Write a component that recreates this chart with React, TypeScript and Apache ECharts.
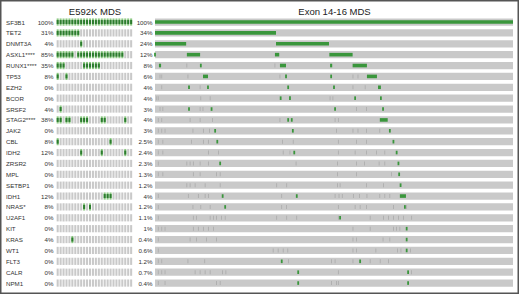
import React, { useEffect, useRef } from "react";
import * as echarts from "echarts";

const genes = ["SF3B1", "TET2", "DNMT3A", "ASXL1****", "RUNX1****", "TP53", "EZH2", "BCOR", "SRSF2", "STAG2****", "JAK2", "CBL", "IDH2", "ZRSR2", "MPL", "SETBP1", "IDH1", "NRAS*", "U2AF1", "KIT", "KRAS", "WT1", "FLT3", "CALR", "NPM1"];
const e592kPct = ["100%", "31%", "4%", "85%", "35%", "8%", "0%", "0%", "4%", "38%", "0%", "8%", "12%", "0%", "0%", "0%", "12%", "8%", "0%", "0%", "4%", "0%", "0%", "0%", "0%"];
const exonPct = ["100%", "34%", "24%", "12%", "8%", "6%", "4%", "4%", "3%", "4%", "3%", "2.5%", "2.4%", "2.3%", "1.3%", "1.2%", "4%", "1.2%", "1.1%", "1%", "0.4%", "0.6%", "1.2%", "0.7%", "0.4%"];

const e592kPatients = 26;
// mutated patient columns (0..25) per gene, E592K MDS cohort
const e592kMutated: number[][] = [
  [0, 1, 2, 3, 4, 5, 6, 7, 8, 9, 10, 11, 12, 13, 14, 15, 16, 17, 18, 19, 20, 21, 22, 23, 24, 25],
  [0, 1, 2, 3, 4, 5, 6, 7],
  [8],
  [0, 1, 2, 3, 4, 5, 7, 8, 9, 10, 11, 12, 13, 14, 15, 16, 17, 18, 19, 20, 21, 22],
  [0, 1, 2, 9, 10, 11, 12, 13, 14],
  [0, 3],
  [],
  [],
  [1],
  [0, 1, 3, 4, 8, 9, 10, 15, 16, 23],
  [],
  [0, 18],
  [8, 15, 23],
  [],
  [],
  [],
  [16, 17, 18],
  [9, 11],
  [],
  [],
  [5],
  [],
  [],
  [],
  [],
];

// Exon 14-16 MDS cohort: mutated stretches along the sample axis (0..100 %)
const exonMutated: [number, number][][] = [
  [[0, 100]],
  [[0, 33.8]],
  [[0, 8.7], [33.8, 48.6]],
  [[0, 0.5], [8.9, 12.6], [33.5, 34.7], [48.7, 55.2]],
  [[1.1, 1.7], [12.8, 13.3], [34.9, 36.6], [48.9, 49.5], [55.2, 59.2]],
  [[13.4, 14.8], [36.6, 36.6], [49.2, 49.2], [59.2, 62.0]],
  [[9.5, 9.5], [14.8, 14.8], [37.2, 37.2], [50.0, 50.0], [62.3, 63.1]],
  [[35.1, 35.1], [37.7, 37.7], [55.9, 55.9], [63.1, 63.1]],
  [[9.5, 9.5], [15.8, 15.8], [50.3, 50.3], [63.7, 63.7]],
  [[37.2, 37.2], [38.2, 38.2], [62.8, 65.0]],
  [[16.8, 16.8], [38.5, 38.5], [65.6, 65.6]],
  [[17.4, 17.4], [66.6, 66.6]],
  [[38.9, 38.9], [67.5, 67.5]],
  [[18.2, 18.2], [68.0, 68.0]],
  [[68.2, 68.2]],
  [[68.6, 68.6]],
  [[18.9, 18.9], [39.6, 39.6], [68.4, 70.1]],
  [[19.6, 19.6], [69.8, 69.8]],
  [[51.7, 51.7]],
  [[70.3, 70.3]],
  [[70.3, 70.3]],
  [[70.3, 70.3]],
  [[35.4, 35.4], [57.3, 57.3]],
  [[40.0, 40.0], [70.7, 70.7]],
  [[40.0, 40.0], [70.7, 70.7]],
];

// other (grey) marks in the Exon 14-16 cohort
const exonOther: number[][] = [
  [],
  [],
  [],
  [],
  [8.9, 33.5],
  [1.4, 1.9, 9.2, 34.9, 55.3, 56.7],
  [1.9, 12.6, 55.3, 58.7],
  [0.5, 0.9, 12.8, 15.4, 48.9, 49.7],
  [1.4, 2.2, 12.6, 13.4, 56.3, 59.1],
  [0.9, 1.9, 9.8, 12.6, 16.1, 34.9, 50.3, 51.2],
  [0.9, 1.9, 2.8, 10.6, 13.5, 15.2, 50.7, 55.3, 56.7, 59.1, 62.8],
  [0.9, 2.2, 10.2, 13.5, 14.9, 35.6, 38.6, 51.2, 56.3, 59.1],
  [0.9, 2.2, 14.9, 17.7, 35.8, 37.7, 51.2, 55.9, 59.1, 61.9, 64.2],
  [0.9, 8.9, 9.8, 10.7, 12.6, 14.9, 39.4, 51.0, 56.3, 58.5, 62.6, 64.2],
  [0.9, 2.2, 10.7, 12.6, 17.2, 18.2, 51.0, 56.3, 66.1],
  [8.9, 9.8, 11.2, 14.0, 18.2, 34.0, 36.8, 51.0, 51.7, 59.1, 63.8],
  [0.9, 9.3, 12.1, 14.0, 14.9, 35.4, 50.3, 51.4, 52.3, 55.4, 57.1, 59.2, 62.8, 64.2, 65.6],
  [0.9, 10.6, 12.8, 15.4, 35.4, 36.7, 51.2, 55.9, 57.3, 59.1, 66.6, 70.3],
  [0.9, 10.7, 11.6, 15.4, 16.3, 17.2, 18.6, 19.6, 34.0, 36.8, 39.6, 51.2, 60.1, 63.8, 65.2, 66.6, 68.0, 69.4, 71.7],
  [0.9, 1.9, 2.8, 10.7, 12.1, 13.5, 14.9, 16.3, 55.3, 60.1, 66.6, 67.5, 68.4],
  [0.9, 9.8, 11.6, 14.4, 17.2, 55.3, 56.3, 63.7, 65.6],
  [0.9, 33.0, 34.4, 35.8, 37.1, 55.3, 56.3, 61.7, 67.7, 68.7, 71.4],
  [0.9, 1.9, 9.2, 13.9, 37.3, 49.3, 50.3, 55.3, 60.1, 62.9, 65.2],
  [0.9, 1.9, 2.8, 11.2, 12.6, 14.0, 15.4, 18.9, 19.8, 51.2, 71.6],
  [0.9, 2.8, 17.2, 18.2, 49.3, 50.7, 51.2],
];

const FONT = "Liberation Sans, Arial, sans-serif";
const GREY = "#c9c9c9";
const GREEN = "#3a963c";
const TEXT = "#333333";

export default function App() {
  const ref = useRef<HTMLDivElement>(null);
  useEffect(() => {
    if (!ref.current) return;
    const chart = echarts.init(ref.current, undefined, { renderer: "svg" });

    const leftCells: number[][] = [];
    genes.forEach((_, r) => {
      for (let c = 0; c < e592kPatients; c++) {
        leftCells.push([c, r, e592kMutated[r].includes(c) ? 1 : 0]);
      }
    });
    const bgRows = genes.map((_, r) => [0, 100, r]);
    const greenSegs: number[][] = [];
    exonMutated.forEach((segs, r) => segs.forEach(([s, e]) => greenSegs.push([s, e, r])));
    const ticks: number[][] = [];
    exonOther.forEach((ps, r) => ps.forEach((p) => ticks.push([p, r])));

    const rowH = 7.2;

    const renderLeft = (params: any, api: any) => {
      const col = api.value(0);
      const row = api.value(1);
      const mut = api.value(2);
      const c = api.coord([col, row]);
      const size = api.size([1, 1]);
      const w = size[0] * 0.7;
      const x = c[0] + size[0] * 0.05;
      const y = c[1] - rowH / 2;
      if (!mut) {
        return { type: "rect", shape: { x, y, width: w, height: rowH }, style: { fill: GREY } };
      }
      return {
        type: "group",
        children: [
          { type: "rect", shape: { x, y, width: w, height: rowH }, style: { fill: "#8cc883" } },
          { type: "rect", shape: { x, y: c[1] - 2, width: w, height: 4 }, style: { fill: "#2c7c2e" } },
        ],
      };
    };
    const renderBg = (params: any, api: any) => {
      const a = api.coord([api.value(0), api.value(2)]);
      const b = api.coord([api.value(1), api.value(2)]);
      return { type: "rect", shape: { x: a[0], y: a[1] - rowH / 2, width: b[0] - a[0], height: rowH }, style: { fill: GREY } };
    };
    const renderGreen = (params: any, api: any) => {
      const a = api.coord([api.value(0), api.value(2)]);
      const b = api.coord([api.value(1), api.value(2)]);
      const w = Math.max(b[0] - a[0], 1.8);
      const x = b[0] - a[0] < 1.8 ? a[0] - 0.9 : a[0];
      return { type: "rect", shape: { x, y: a[1] - 1.8, width: w, height: 3.6 }, style: { fill: GREEN } };
    };
    const renderTick = (params: any, api: any) => {
      const a = api.coord([api.value(0), api.value(1)]);
      return { type: "rect", shape: { x: a[0] - 0.35, y: a[1] - 2, width: 0.7, height: 4 }, style: { fill: "#a6a6a6" } };
    };

    const catAxisBase = {
      type: "category" as const,
      data: genes,
      inverse: true,
      axisLine: { show: false },
      axisTick: { show: false },
      splitLine: { show: false },
    };

    chart.setOption({
      animation: false,
      backgroundColor: "#ffffff",
      grid: [
        { left: 56.5, width: 76.4, top: 16.6, height: 271.9 },
        { left: 155, width: 358, top: 16.6, height: 271.9 },
      ],
      xAxis: [
        { type: "value", gridIndex: 0, min: 0, max: e592kPatients, show: false },
        { type: "value", gridIndex: 1, min: 0, max: 100, show: false },
      ],
      yAxis: [
        {
          ...catAxisBase,
          gridIndex: 0,
          position: "left",
          axisLabel: { align: "left", margin: 50.5, fontSize: 6.2, color: TEXT, fontFamily: FONT, interval: 0 },
        },
        {
          ...catAxisBase,
          gridIndex: 0,
          position: "left",
          axisLabel: {
            align: "right",
            margin: 3,
            fontSize: 6.2,
            color: TEXT,
            fontFamily: FONT,
            interval: 0,
            formatter: (_v: string, i: number) => e592kPct[i],
          },
        },
        {
          ...catAxisBase,
          gridIndex: 1,
          position: "left",
          axisLabel: {
            align: "right",
            margin: 2.5,
            fontSize: 6.2,
            color: TEXT,
            fontFamily: FONT,
            interval: 0,
            formatter: (_v: string, i: number) => exonPct[i],
          },
        },
      ],
      series: [
        { type: "custom", xAxisIndex: 0, yAxisIndex: 0, renderItem: renderLeft, data: leftCells, encode: { x: 0, y: 1 }, silent: true },
        { type: "custom", xAxisIndex: 1, yAxisIndex: 2, renderItem: renderBg, data: bgRows, encode: { x: [0, 1], y: 2 }, silent: true },
        { type: "custom", xAxisIndex: 1, yAxisIndex: 2, renderItem: renderTick, data: ticks, encode: { x: 0, y: 1 }, silent: true },
        { type: "custom", xAxisIndex: 1, yAxisIndex: 2, renderItem: renderGreen, data: greenSegs, encode: { x: [0, 1], y: 2 }, silent: true },
      ],
      graphic: [
        {
          type: "rect",
          shape: { x: 0.75, y: 0.75, width: 517.5, height: 292.5 },
          style: { fill: "none", stroke: "#555555", lineWidth: 1.5 },
          silent: true,
        },
        {
          type: "text",
          x: 95,
          y: 11,
          style: { text: "E592K MDS", align: "center", verticalAlign: "middle", textAlign: "center", textVerticalAlign: "middle", fontSize: 9.5, fill: "#222", fontFamily: FONT },
        },
        {
          type: "text",
          x: 334.5,
          y: 11,
          style: { text: "Exon 14-16 MDS", align: "center", verticalAlign: "middle", textAlign: "center", textVerticalAlign: "middle", fontSize: 9.5, fill: "#222", fontFamily: FONT },
        },
      ],
    });
    return () => chart.dispose();
  }, []);
  return (
    <div
      ref={ref}
      style={{ position: "fixed", left: 0, top: 0, width: 520, height: 295, background: "#fff" }}
    />
  );
}
